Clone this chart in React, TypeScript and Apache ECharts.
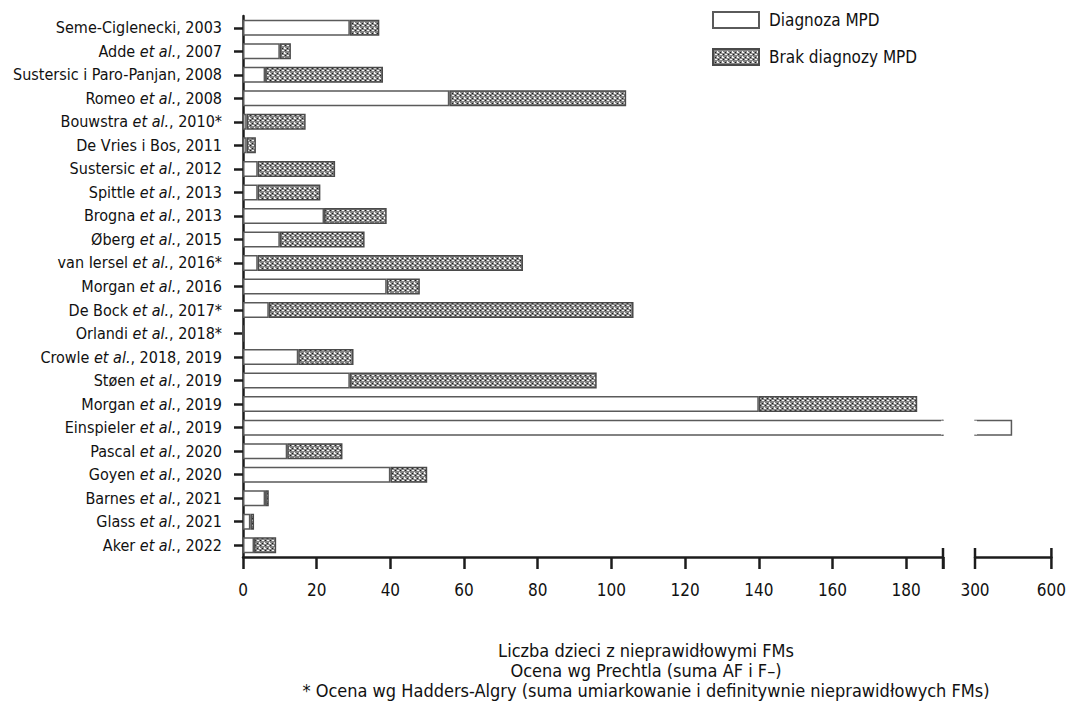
import React, { useEffect, useRef } from 'react';
import * as echarts from 'echarts';

const categories: string[] = [
  'Seme-Ciglenecki, 2003',
  'Adde et al., 2007',
  'Sustersic i Paro-Panjan, 2008',
  'Romeo et al., 2008',
  'Bouwstra et al., 2010*',
  'De Vries i Bos, 2011',
  'Sustersic et al., 2012',
  'Spittle et al., 2013',
  'Brogna et al., 2013',
  'Øberg et al., 2015',
  'van Iersel et al., 2016*',
  'Morgan et al., 2016',
  'De Bock et al., 2017*',
  'Orlandi et al., 2018*',
  'Crowle et al., 2018, 2019',
  'Støen et al., 2019',
  'Morgan et al., 2019',
  'Einspieler et al., 2019',
  'Pascal et al., 2020',
  'Goyen et al., 2020',
  'Barnes et al., 2021',
  'Glass et al., 2021',
  'Aker et al., 2022',
];

// Diagnoza MPD
const diagnosed: number[] = [29, 10, 6, 56, 1, 1, 4, 4, 22, 10, 4, 39, 7, 0, 15, 29, 140, 446, 12, 40, 6, 2, 3];
// Brak diagnozy MPD
const notDiagnosed: number[] = [8, 3, 32, 48, 16, 2.5, 21, 17, 17, 23, 72, 9, 99, 0, 15, 67, 43, 0, 15, 10, 1, 1, 6];

const lowTicks: number[] = [0, 20, 40, 60, 80, 100, 120, 140, 160, 180];
const highTicks: number[] = [300, 600];
const BREAK_LOW = 190;

const seriesNames = ['Diagnoza MPD', 'Brak diagnozy MPD'];
const footnotes = [
  'Liczba dzieci z nieprawidłowymi FMs',
  'Ocena wg Prechtla (suma AF i F–)',
  '* Ocena wg Hadders-Algry (suma umiarkowanie i definitywnie nieprawidłowych FMs)',
];

const FONT = "'Liberation Sans Narrow', 'DejaVu Sans Condensed', sans-serif";
const AXIS_COLOR = '#1c1c1c';
const BAR_W = 16;

function makePattern(): HTMLCanvasElement {
  const c = document.createElement('canvas');
  c.width = 5;
  c.height = 5;
  const ctx = c.getContext('2d')!;
  ctx.fillStyle = '#858585';
  ctx.fillRect(0, 0, 5, 5);
  ctx.fillStyle = '#1e1e1e';
  ctx.fillRect(0, 0, 1, 1);
  ctx.fillRect(2, 3, 1, 1);
  ctx.fillStyle = '#f4f4f4';
  ctx.fillRect(2, 0, 2, 1);
  ctx.fillRect(4, 2, 1, 2);
  ctx.fillRect(0, 3, 1, 1);
  return c;
}

function labelFormatter(v: string): string {
  const i = v.indexOf('et al.');
  if (i < 0) return `{n|${v}}`;
  return `{n|${v.slice(0, i)}}{i|et al.}{n|${v.slice(i + 6)}}`;
}

export default function App() {
  const ref = useRef<HTMLDivElement>(null);

  useEffect(() => {
    if (!ref.current) return;
    const chart = echarts.init(ref.current, null, { renderer: 'svg' });
    const pattern = {
      image: makePattern(),
      repeat: 'repeat',
      imageWidth: 5,
      imageHeight: 5,
    };
    const axisLine = { show: true, lineStyle: { color: AXIS_COLOR, width: 2.5 } };
    const axisTick = { show: true, length: 12, lineStyle: { color: AXIS_COLOR, width: 2.5 } };
    const xLabel = { margin: 24, fontSize: 17, color: '#111', fontFamily: FONT };

    const option: any = {
      animation: false,
      backgroundColor: '#ffffff',
      legend: {
        data: seriesNames,
        orient: 'vertical',
        left: 712,
        top: 11,
        padding: 0,
        itemWidth: 46,
        itemHeight: 16,
        itemGap: 19,
        icon: 'rect',
        textStyle: { fontSize: 17, fontFamily: FONT, color: '#111', padding: [0, 0, 0, 5] },
      },
      grid: [
        { left: 243, top: 16, width: 700, height: 541 },
        { left: 975, top: 16, width: 78, height: 541 },
      ],
      xAxis: [
        {
          type: 'value',
          gridIndex: 0,
          min: lowTicks[0],
          max: BREAK_LOW,
          interval: lowTicks[1] - lowTicks[0],
          axisLine,
          axisTick,
          splitLine: { show: false },
          axisLabel: {
            ...xLabel,
            formatter: (v: number) => (lowTicks.includes(v) ? String(v) : ''),
          },
        },
        {
          type: 'value',
          gridIndex: 1,
          min: highTicks[0],
          max: highTicks[1],
          interval: highTicks[1] - highTicks[0],
          axisLine,
          axisTick: { show: false },
          splitLine: { show: false },
          axisLabel: { ...xLabel, showMinLabel: true, showMaxLabel: true },
        },
      ],
      yAxis: [
        {
          type: 'category',
          gridIndex: 0,
          data: categories,
          inverse: true,
          axisLine: { show: true, lineStyle: { color: AXIS_COLOR, width: 2.5 } },
          axisTick: { show: true, alignWithLabel: true, length: 9, lineStyle: { color: AXIS_COLOR, width: 2.5 } },
          axisLabel: {
            margin: 21,
            formatter: labelFormatter,
            rich: {
              n: { fontSize: 16, fontFamily: FONT, color: '#111' },
              i: { fontSize: 16, fontFamily: FONT, color: '#111', fontStyle: 'italic' },
            },
          },
        },
        {
          type: 'category',
          gridIndex: 1,
          data: categories,
          inverse: true,
          show: false,
        },
      ],
      series: [
        {
          name: seriesNames[0],
          type: 'bar',
          stack: 'a',
          xAxisIndex: 0,
          yAxisIndex: 0,
          barWidth: BAR_W,
          clip: true,
          data: diagnosed.map((v) => Math.min(v, BREAK_LOW)),
          itemStyle: { color: '#ffffff', borderColor: '#5a5a5a', borderWidth: 1.5 },
        },
        {
          name: seriesNames[1],
          type: 'bar',
          stack: 'a',
          xAxisIndex: 0,
          yAxisIndex: 0,
          barWidth: BAR_W,
          clip: true,
          data: notDiagnosed,
          itemStyle: { color: pattern, borderColor: '#4a4a4a', borderWidth: 1.5 },
        },
        {
          name: seriesNames[0],
          type: 'bar',
          xAxisIndex: 1,
          yAxisIndex: 1,
          barWidth: BAR_W,
          clip: true,
          data: diagnosed.map((v) => (v > highTicks[0] ? v : '-')),
          itemStyle: { color: '#ffffff', borderColor: '#5a5a5a', borderWidth: 1.5 },
        },
      ],
    };
    chart.setOption(option);

    const axisY = 557;
    const xBreak = chart.convertToPixel({ xAxisIndex: 0 }, BREAK_LOW) as number;
    const x300 = chart.convertToPixel({ xAxisIndex: 1 }, highTicks[0]) as number;
    const x600 = chart.convertToPixel({ xAxisIndex: 1 }, highTicks[1]) as number;
    const bracket = (x: number) => ({
      type: 'line',
      shape: { x1: x, y1: axisY - 9, x2: x, y2: axisY + 12 },
      style: { stroke: AXIS_COLOR, lineWidth: 2.5 },
    });
    // open ends of the broken bar(s)
    const covers: any[] = [];
    diagnosed.forEach((v, idx) => {
      if (v > highTicks[0]) {
        const yc = chart.convertToPixel({ yAxisIndex: 0 }, categories[idx]) as number;
        covers.push({
          type: 'rect',
          shape: { x: xBreak - 2, y: yc - BAR_W / 2 + 1, width: 4, height: BAR_W - 2 },
          style: { fill: '#ffffff' },
          z: 100,
        });
        covers.push({
          type: 'rect',
          shape: { x: x300 - 2, y: yc - BAR_W / 2 + 1, width: 4, height: BAR_W - 2 },
          style: { fill: '#ffffff' },
          z: 100,
        });
      }
    });
    chart.setOption({
      graphic: [
        ...covers,
        bracket(xBreak),
        bracket(x300),
        bracket(x600),
        ...footnotes.map((t, k) => ({
          type: 'text',
          x: 646,
          y: 650 + k * 20,
          style: {
            text: t,
            fontSize: 18,
            fontFamily: FONT,
            fill: '#111',
            textAlign: 'center',
            textVerticalAlign: 'middle',
          },
        })),
      ],
    });

    return () => chart.dispose();
  }, []);

  return (
    <div
      ref={ref}
      style={{ position: 'absolute', left: 0, top: 0, width: 1069, height: 708, background: '#fff' }}
    />
  );
}
